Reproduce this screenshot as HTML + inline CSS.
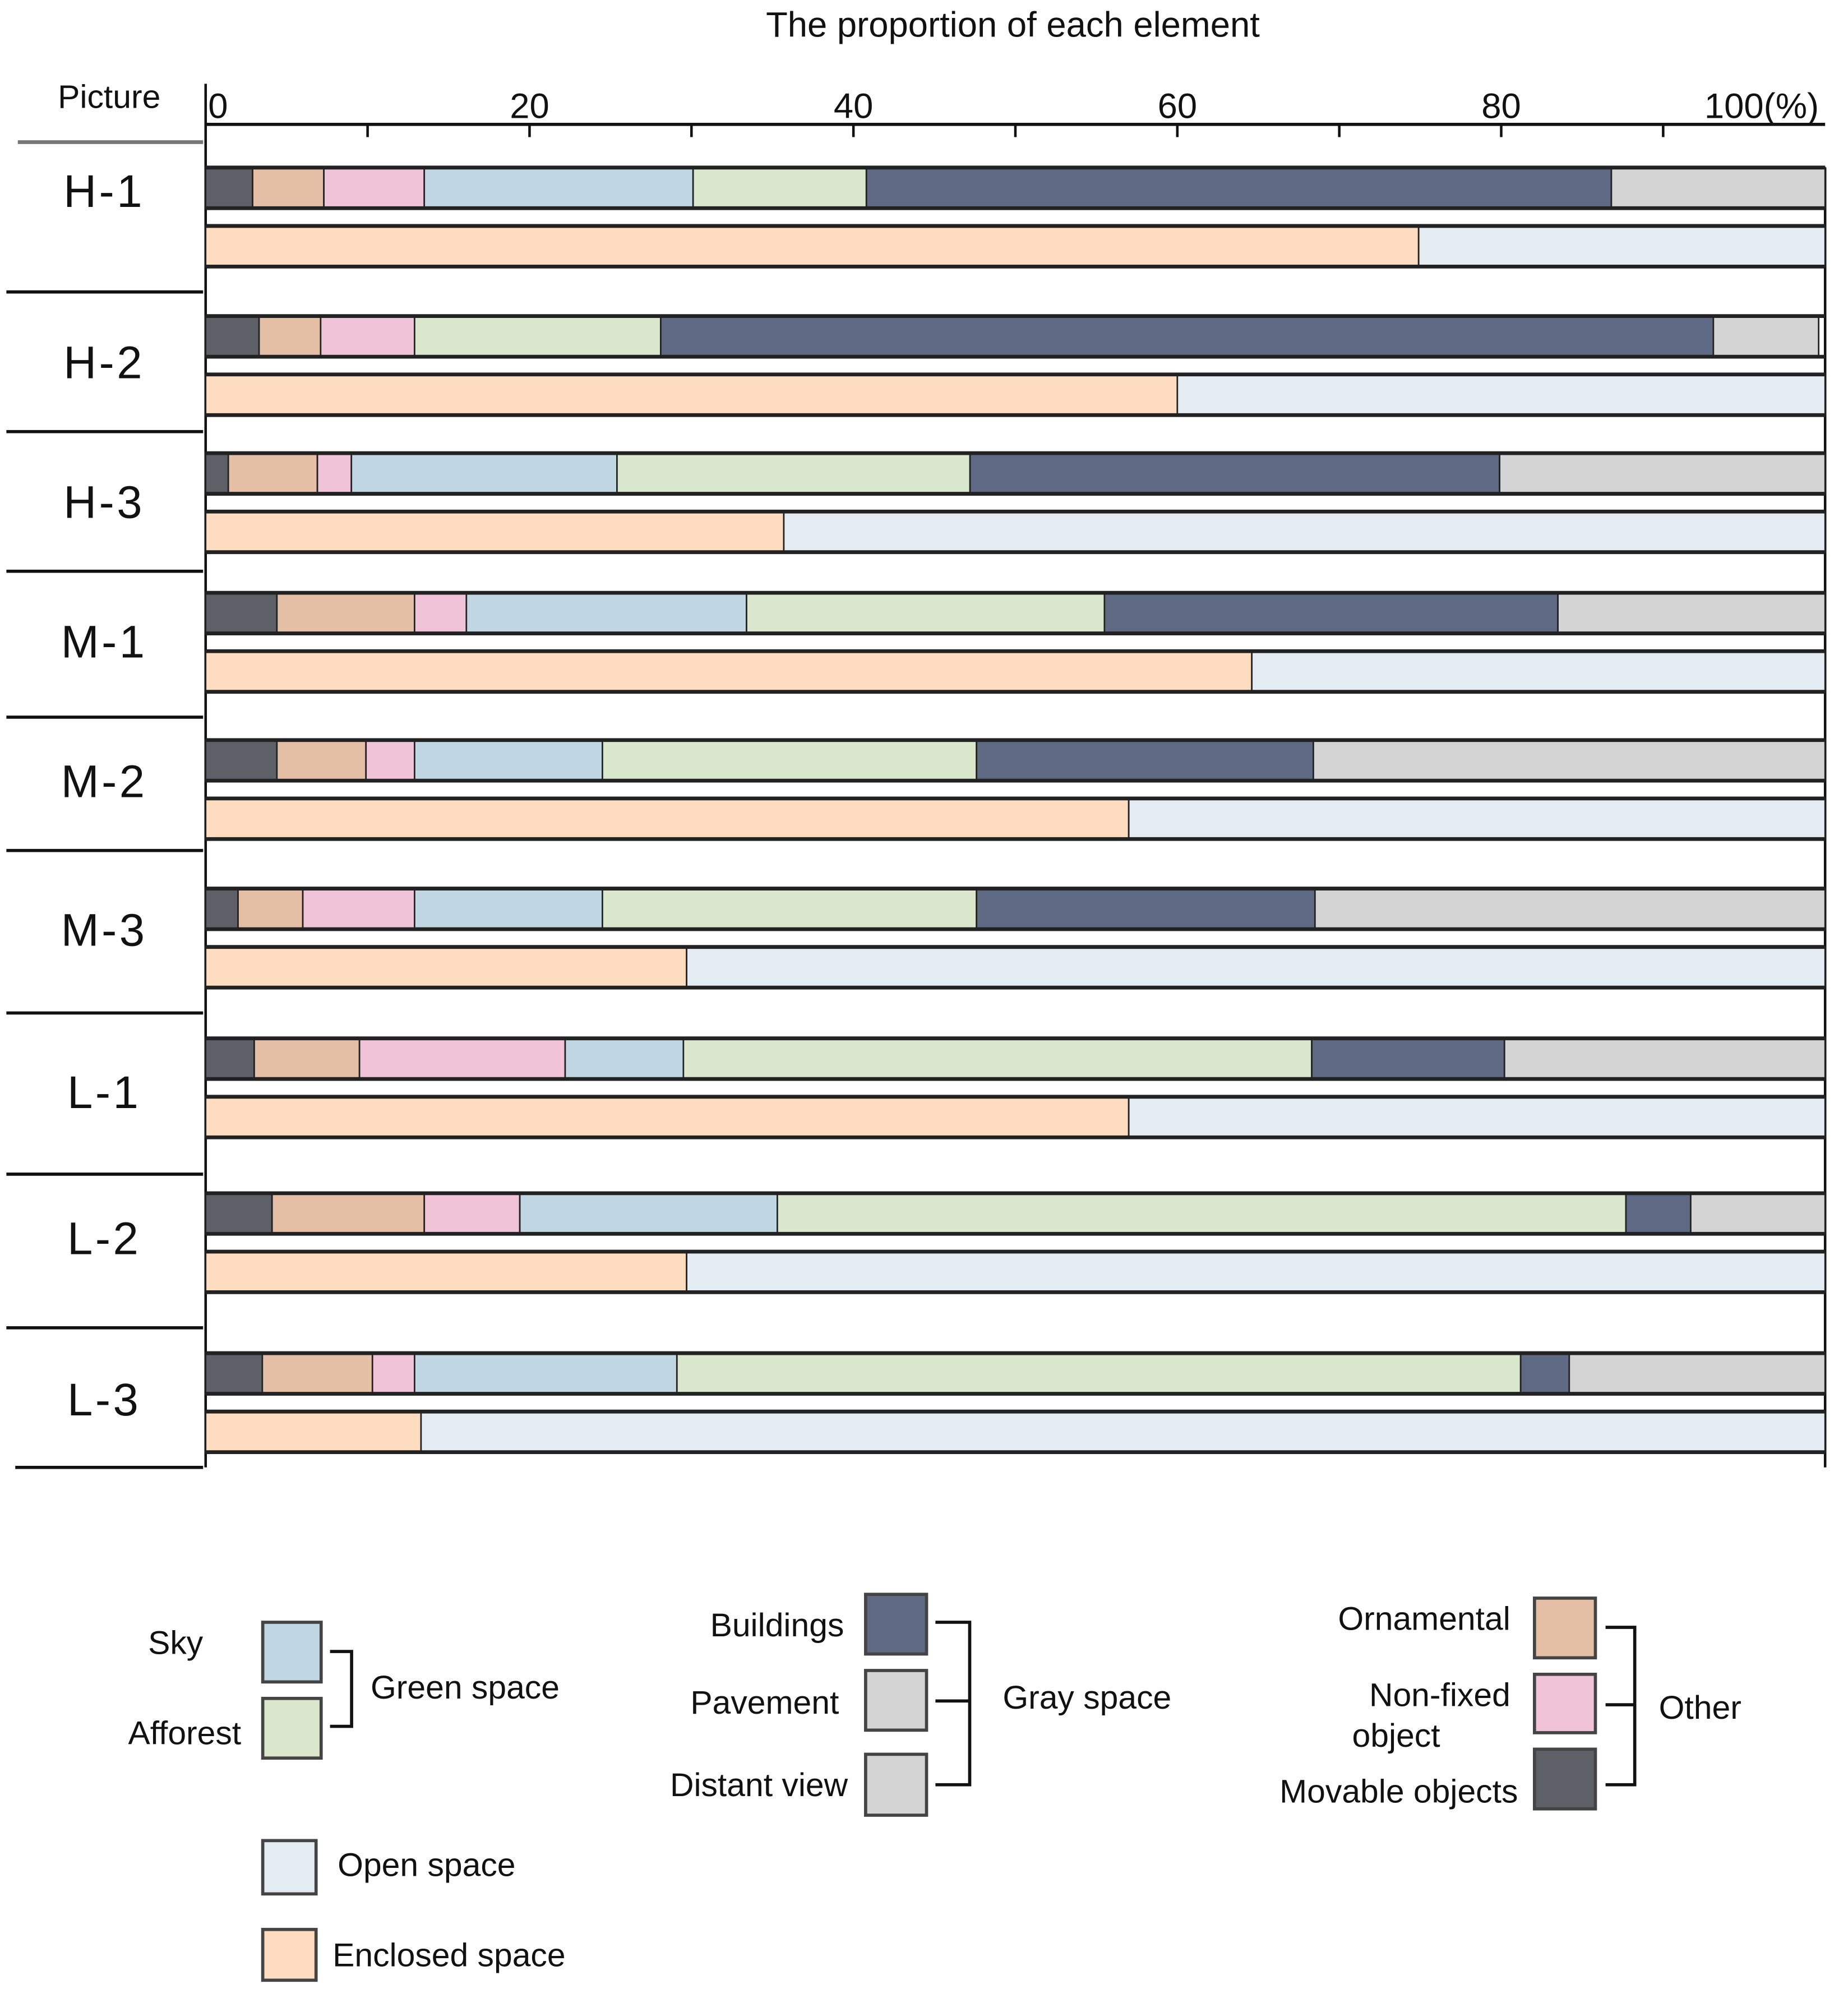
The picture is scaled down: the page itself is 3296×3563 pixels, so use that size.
<!DOCTYPE html>
<html><head><meta charset="utf-8"><style>
html,body{margin:0;padding:0;background:#fff}
svg{display:block}
text{font-family:"Liberation Sans","DejaVu Sans",sans-serif;fill:#111}
</style></head><body>
<svg id="chart" width="3296" height="3563" viewBox="0 0 1456 1574" xmlns="http://www.w3.org/2000/svg">
<g id="axes"></g>
<g id="bars"></g>
<g id="legend"></g>
</svg>
<script>
const categories = ["H-1","H-2","H-3","M-1","M-2","M-3","L-1","L-2","L-3"];
const movable    = [2.9,3.3,1.4,4.4,4.4,2.0,3.0,4.1,3.5];
const ornamental = [4.4,3.8,5.5,8.5,5.5,4.0,6.5,9.4,6.8];
const nonfixed   = [6.2,5.8,2.1,3.2,3.0,6.9,12.7,5.9,2.6];
const sky        = [16.6,0,16.4,17.3,11.6,11.6,7.3,15.9,16.2];
const afforest   = [10.7,15.2,21.8,22.1,23.1,23.1,38.8,52.4,52.1];
const buildings  = [46.0,65.0,32.7,28.0,20.8,20.9,11.9,4.0,3.0];
const gray       = [13.2,6.5,20.1,16.5,31.6,31.5,19.8,8.3,15.8];
const enclosed   = [74.9,60.0,35.7,64.6,57.0,29.7,57.0,29.7,13.3];
const ticks = ["0","20","40","60","80","100(%)"];
const tickVals = [0,20,40,60,80,100];

const NS="http://www.w3.org/2000/svg";
const X0=162, X1=1438;
const xs = v => X0 + (X1-X0)*v/100;
const rowTop=[132,249,357,467,583,700,818,940,1066];
const labelY=[150,285,395,505,615,732,860,975,1102];
const seps=[230,340,450,565,670,798,925,1046,1156];
const BH=32, GAP=46;
function el(tag,attrs,parent,txt){const e=document.createElementNS(NS,tag);for(const k in attrs)e.setAttribute(k,attrs[k]);if(txt!==undefined)e.textContent=txt;parent.appendChild(e);return e;}
const axes=document.getElementById('axes'), bars=document.getElementById('bars'), legend=document.getElementById('legend');

let t=el('text',{x:798,y:29,'text-anchor':'middle','font-size':28},axes,"The proportion of each element");


t=el('text',{x:86,y:85,'text-anchor':'middle','font-size':26},axes,"Picture");


let ln=el('line',{x1:X0,y1:98,x2:X1,y2:98,stroke:'#111','stroke-width':2.5},axes);


ln=el('line',{x1:X0,y1:66,x2:X0,y2:1156,stroke:'#111','stroke-width':2},axes);


ln=el('line',{x1:X1,y1:132,x2:X1,y2:1156,stroke:'#111','stroke-width':2},axes);


el('line',{x1:14,y1:112,x2:160,y2:112,stroke:'#777','stroke-width':3},axes);
for(let v=10;v<100;v+=10){el('line',{x1:xs(v),y1:98,x2:xs(v),y2:108,stroke:'#111','stroke-width':2},axes);}
tickVals.forEach((v,i)=>{
  const tx=el('text',{x:i==0?xs(v)+2:(i==5?xs(v)-50:xs(v)),y:93,'text-anchor':i==0?'start':'middle','font-size':28},axes,ticks[i]);
  
  
});
seps.forEach((y,i)=>{el('line',{x1:i==8?12:5,y1:y,x2:160,y2:y,stroke:'#111','stroke-width':2.5},axes);});
categories.forEach((c,i)=>{
  const tx=el('text',{x:82,y:labelY[i]+13,'text-anchor':'middle','font-size':36,'letter-spacing':2},axes,c);
  
  
});

const series=[movable,ornamental,nonfixed,sky,afforest,buildings,gray];
const colors=['#5d6066','#e5bea6','#f0c3d8','#c0d7e3','#d9e7cd','#5e6984','#d4d4d4'];
const names=['movable','ornamental','nonfixed','sky','afforest','buildings','gray'];
categories.forEach((c,i)=>{
  const y=rowTop[i];
  let cum=0;
  series.forEach((s,k)=>{
    const v=s[i]; if(v<=0) return;
    const r=el('rect',{x:xs(cum),y:y,width:xs(cum+v)-xs(cum),height:BH,fill:colors[k],stroke:'#222','stroke-width':1.2},bars);
    
    
    cum+=v;
  });
  el('line',{x1:X0,y1:y,x2:X1,y2:y,stroke:'#222','stroke-width':3},bars);
  el('line',{x1:X0,y1:y+BH,x2:X1,y2:y+BH,stroke:'#222','stroke-width':3},bars);
  const y2=y+GAP;
  let r=el('rect',{x:X0,y:y2,width:xs(enclosed[i])-X0,height:BH,fill:'#fddcc0',stroke:'#222','stroke-width':1.2},bars);
  
  
  r=el('rect',{x:xs(enclosed[i]),y:y2,width:X1-xs(enclosed[i]),height:BH,fill:'#e3ebf3',stroke:'#222','stroke-width':1.2},bars);
  
  
  el('line',{x1:X0,y1:y2,x2:X1,y2:y2,stroke:'#222','stroke-width':3},bars);
  el('line',{x1:X0,y1:y2+BH,x2:X1,y2:y2+BH,stroke:'#222','stroke-width':3},bars);
});

function box(x,y,w,h,fill,name){const r=el('rect',{x:x,y:y,width:w,height:h,fill:fill,stroke:'#444','stroke-width':2.5},legend);}
function lt(x,y,s,anchor,name){const tx=el('text',{x:x,y:y,'text-anchor':anchor||'start','font-size':26},legend,s);}
function path(d){el('path',{d:d,fill:'none',stroke:'#111','stroke-width':2.5},legend);}
box(207,1278,46,47,'#c0d7e3','legend-swatch-sky'); lt(160,1303,'Sky','end','legend-label-sky');
box(207,1338,46,47,'#d9e7cd','legend-swatch-afforest'); lt(190,1374,'Afforest','end','legend-label-afforest');
path('M260 1301 H277 V1360 H260'); lt(292,1338,'Green space','start','legend-group-green');
box(682,1256,48,47,'#5e6984','legend-swatch-buildings'); lt(665,1289,'Buildings','end','legend-label-buildings');
box(682,1316,48,47,'#d4d4d4','legend-swatch-pavement'); lt(661,1350,'Pavement','end','legend-label-pavement');
box(682,1382,48,48,'#d4d4d4','legend-swatch-distant'); lt(668,1415,'Distant view','end','legend-label-distant');
path('M737 1278 H764 V1406 H737 M737 1340 H764'); lt(790,1346,'Gray space','start','legend-group-gray');
box(1209,1259,48,47,'#e5bea6','legend-swatch-ornamental'); lt(1190,1284,'Ornamental','end','legend-label-ornamental');
box(1209,1319,48,46,'#f0c3d8','legend-swatch-nonfixed'); lt(1190,1344,'Non-fixed','end','legend-label-nonfixed'); lt(1100,1376,'object','middle','legend-label-nonfixed-2');
box(1209,1378,48,47,'#5d6066','legend-swatch-movable'); lt(1196,1420,'Movable objects','end','legend-label-movable');
path('M1265 1282 H1288 V1406 H1265 M1265 1343 H1288'); lt(1307,1354,'Other','start','legend-group-other');
box(207,1450,42,42,'#e3ebf3','legend-swatch-open'); lt(266,1478,'Open space','start','legend-label-open');
box(207,1520,42,40,'#fddcc0','legend-swatch-enclosed'); lt(262,1549,'Enclosed space','start','legend-label-enclosed');
</script>
</body></html>
